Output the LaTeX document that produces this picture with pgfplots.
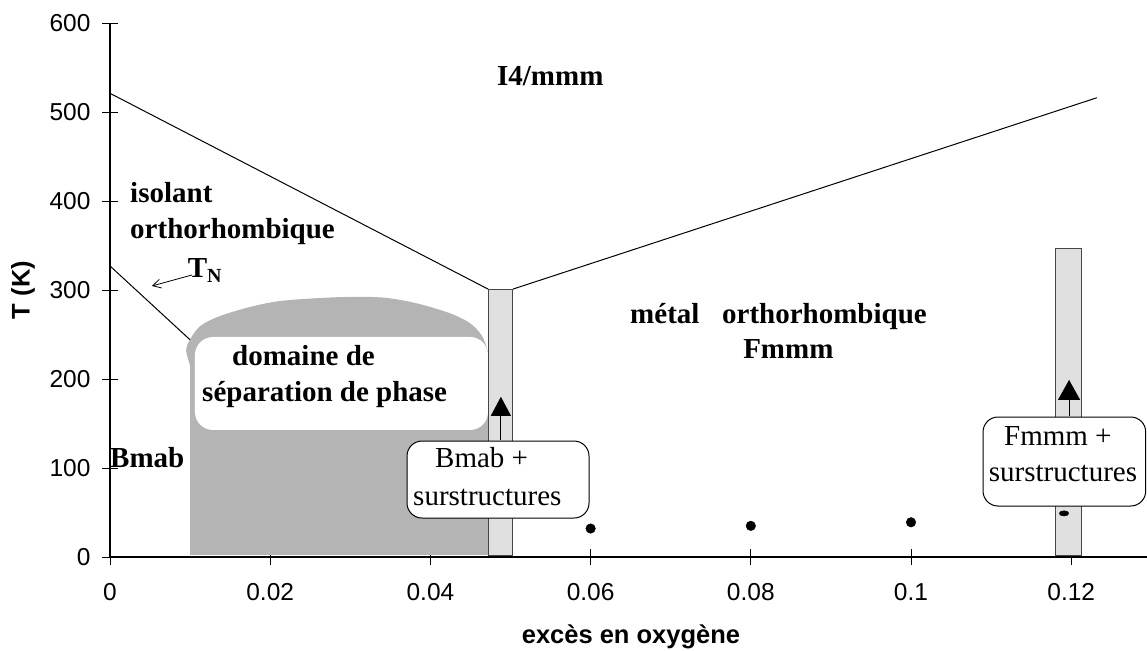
\documentclass[border=0pt]{standalone}
\usepackage{pgfplots}
\pgfplotsset{compat=1.18}
\usepackage{fontspec}
\setmainfont{Liberation Serif}
\setsansfont{Liberation Sans}
\usetikzlibrary{arrows.meta}
\definecolor{barfill}{RGB}{224,224,224}
\definecolor{bardraw}{RGB}{70,70,70}
\definecolor{hatch}{RGB}{180,180,180}

\begin{document}
\begin{tikzpicture}[x=1pt,y=1pt,
  bl/.style={anchor=base west, inner sep=0pt, font=\bfseries\fontsize{29}{29}\selectfont},
  rg/.style={anchor=base west, inner sep=0pt, font=\fontsize{29}{29}\selectfont}]
\path[use as bounding box] (0,0) rectangle (1147,650);
\begin{axis}[
  at={(110pt,93pt)}, anchor=south west,
  scale only axis, width=1037pt, height=534pt,
  xmin=0, xmax=0.12946, ymin=0, ymax=600,
  axis lines=left, axis line style={-, line width=1.1pt},
  clip=false,
  xtick={0,0.02,0.04,0.06,0.08,0.1,0.12},
  xticklabels={0,0.02,0.04,0.06,0.08,0.1,0.12},
  ytick={0,100,200,300,400,500,600},
  yticklabels={0,100,200,300,400,500,600},
  tick align=center, major tick length=16pt,
  tick style={black, line width=0.8pt},
  ticklabel style={font=\sffamily\fontsize{24.5}{24.5}\selectfont},
  xticklabel style={yshift=-15pt},
  yticklabel style={xshift=-8pt},
  /pgf/number format/assume math mode=true,
  xlabel={excès en oxygène}, ylabel={T (K)},
  label style={font=\sffamily\bfseries\fontsize{25.5}{25.5}\selectfont},
  xlabel style={at={(axis description cs:0.5024,-0.162)}, anchor=base},
  ylabel style={at={(axis description cs:-0.0839,0.5)}, anchor=center},
]
% phase separation domain
\addplot[draw=none, fill=hatch] coordinates {(0.0100,2) (0.0100,222) (0.0472,222) (0.0472,2)} -- cycle;
\addplot[draw=none, fill=hatch, smooth, tension=0.5] coordinates {(0.0100,215) (0.0095,232) (0.0099,243) (0.0112,259) (0.0135,270) (0.0175,281) (0.0216,288) (0.0287,292) (0.0341,291.5) (0.0383,285) (0.0424,274) (0.0449,263) (0.0464,249) (0.0472,230) (0.0472,215)} -- cycle;
\fill[white, rounded corners=18pt] (axis cs:0.01061,142.7) rectangle (axis cs:0.04719,247.2);
% bars
\addplot[fill=barfill, draw=bardraw, line width=1pt] coordinates {(0.0472,2) (0.0503,2) (0.0503,301) (0.0472,301)} -- cycle;
\addplot[fill=barfill, draw=bardraw, line width=1pt] coordinates {(0.1180,2) (0.1213,2) (0.1213,347) (0.1180,347)} -- cycle;
% phase lines
\addplot[black, line width=1pt] coordinates {(0,521) (0.0472,301)};
\addplot[black, line width=1pt] coordinates {(0.0503,301) (0.1232,516)};
\addplot[black, line width=1pt] coordinates {(0,327) (0.0100,244)};
% arrows
\addplot[black, line width=1pt, -{Triangle[length=19pt,width=20pt]}] coordinates {(0.0488,131) (0.0488,180)};
\addplot[black, line width=1pt, -{Triangle[length=20pt,width=22pt]}] coordinates {(0.11973,158) (0.11973,199)};
\addplot[black, line width=0.8pt, -{Straight Barb[length=8pt,width=9pt]}] coordinates {(0.01024,316.9) (0.00524,304.5)};
% boxes
\draw[black, line width=1pt, fill=white, rounded corners=15pt] (axis cs:0.03708,43.8) rectangle (axis cs:0.0598,130.3);
\draw[black, line width=1pt, fill=white, rounded corners=15pt] (axis cs:0.10899,57.3) rectangle (axis cs:0.1293,157.3);
% dots
\addplot[only marks, mark=*, mark size=4.8pt, black] coordinates {(0.06,32) (0.08,35) (0.1,39)};
\addplot[only marks, mark=*, mark size=4.8pt, mark options={yscale=0.55}, black] coordinates {(0.1191,49)};
% texts
\node[bl] at (axis cs:0.0483,530.3) {I4/mmm};
\node[bl] at (axis cs:0.0025,397.8) {isolant};
\node[bl] at (axis cs:0.0025,358.4) {orthorhombique};
\node[bl] at (axis cs:0.0097,314.6) {T\raisebox{-5pt}{\fontsize{20}{20}\selectfont N}};
\node[bl] at (axis cs:0.01523,215.7) {domaine de};
\node[bl] at (axis cs:0.01149,174.2) {séparation de phase};
\node[bl] at (axis cs:0,100) {Bmab};
\node[bl] at (axis cs:0.06492,262.9) {métal};
\node[bl] at (axis cs:0.07640,262.9) {orthorhombique};
\node[bl] at (axis cs:0.07903,222.5) {Fmmm};
\node[rg] at (axis cs:0.04057,100) {Bmab +};
\node[rg] at (axis cs:0.03783,58.4) {surstructures};
\node[rg] at (axis cs:0.1116,125.8) {Fmmm +};
\node[rg] at (axis cs:0.1097,84.3) {surstructures};
\end{axis}
\end{tikzpicture}
\end{document}
